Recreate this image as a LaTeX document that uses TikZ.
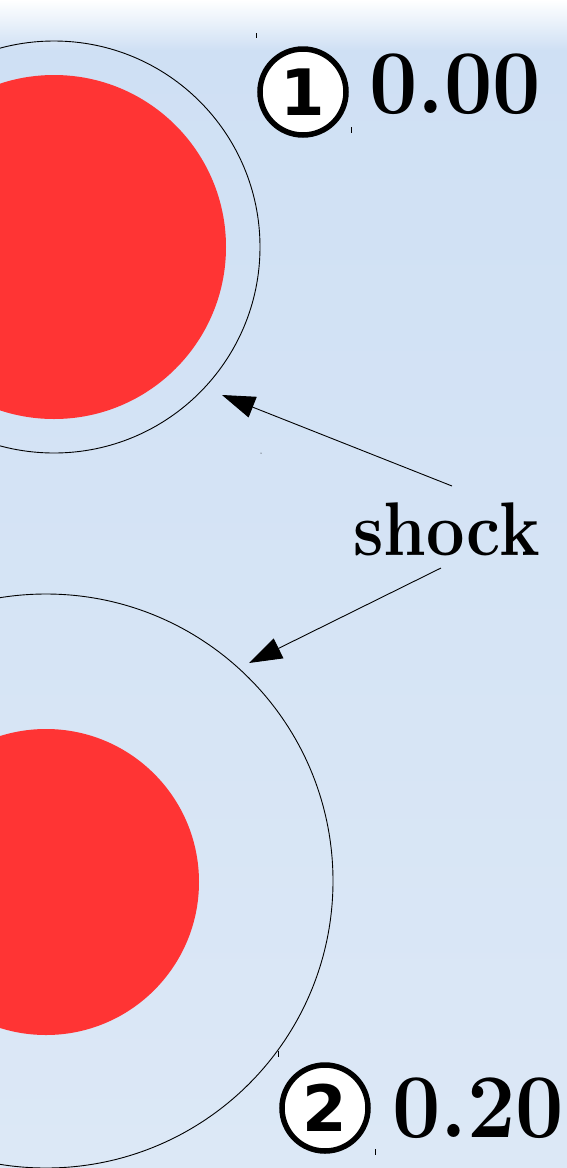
\documentclass[tikz,border=0pt]{standalone}
\usepackage{fontspec}
\newfontfamily\digitfont{DejaVu Sans}
\usetikzlibrary{arrows.meta}
\definecolor{skytop}{HTML}{FFFFFF}
\definecolor{skymid}{HTML}{CFE0F4}
\definecolor{skylow}{HTML}{DCE8F6}
\definecolor{dropred}{HTML}{FF3434}
\newcommand{\narrowed}[2]{\scalebox{#1}[1]{#2}}
\tikzset{
  shockline/.style={draw=black, line width=0.9pt},
  drop/.style={fill=dropred},
  numbadge/.style={circle, draw=black, fill=white, line width=5.5pt, minimum size=86pt, inner sep=0pt, font=\digitfont\bfseries\fontsize{64}{64}\selectfont},
  timelabel/.style={anchor=base west, inner sep=0pt, font=\bfseries\fontsize{91}{91}\selectfont},
  pointer/.style={draw=black, line width=0.9pt, -{Triangle[length=33pt,width=22pt]}},
  tick/.style={draw=black, line width=0.6pt}
}
\begin{document}
\begin{tikzpicture}[x=1pt,y=-1pt]
  % backdrop
  \useasboundingbox (0,0) rectangle (567,1168);
  \shade[top color=skytop, bottom color=skymid] (0,0) rectangle (567,50);
  \shade[top color=skymid, bottom color=skylow] (0,50) rectangle (567,1168);
  \begin{scope}
    \clip (0,0) rectangle (567,1168);
    % first snapshot
    \fill[drop] (54,247) circle[radius=172];
    \draw[shockline] (54,247) circle[radius=206];
    % second snapshot
    \fill[drop] (46,882) circle[radius=153];
    \draw[shockline] (46,881) circle[radius=287];
  \end{scope}
  % time labels
  \node[numbadge] (b1) at (303,92) {1};
  \node[timelabel] (t1) at (369,113) {\narrowed{0.945}{0.00}};
  \node[numbadge] (b2) at (325,1108) {2};
  \node[timelabel] (t2) at (392,1137) {\narrowed{0.945}{0.20}};
  % selection marks
  \draw[tick] (256,33) -- (256,38);
  \draw[tick] (351,127) -- (351,133);
  \draw[tick] (278,1051) -- (278,1057);
  \draw[tick] (375,1149) -- (375,1155);
  \fill (261,453) circle[radius=0.5];
  % shock annotation
  \node[anchor=base west, inner sep=0pt, font=\bfseries\fontsize{76}{76}\selectfont] (shock) at (353,555) {\narrowed{0.9}{shock}};
  \coordinate (s1) at (452,486);
  \coordinate (s2) at (441,568);
  \coordinate (h1) at (222,395);
  \coordinate (h2) at (249,663);
  \draw[pointer] (s1) -- (h1);
  \draw[pointer] (s2) -- (h2);
\end{tikzpicture}
\end{document}
